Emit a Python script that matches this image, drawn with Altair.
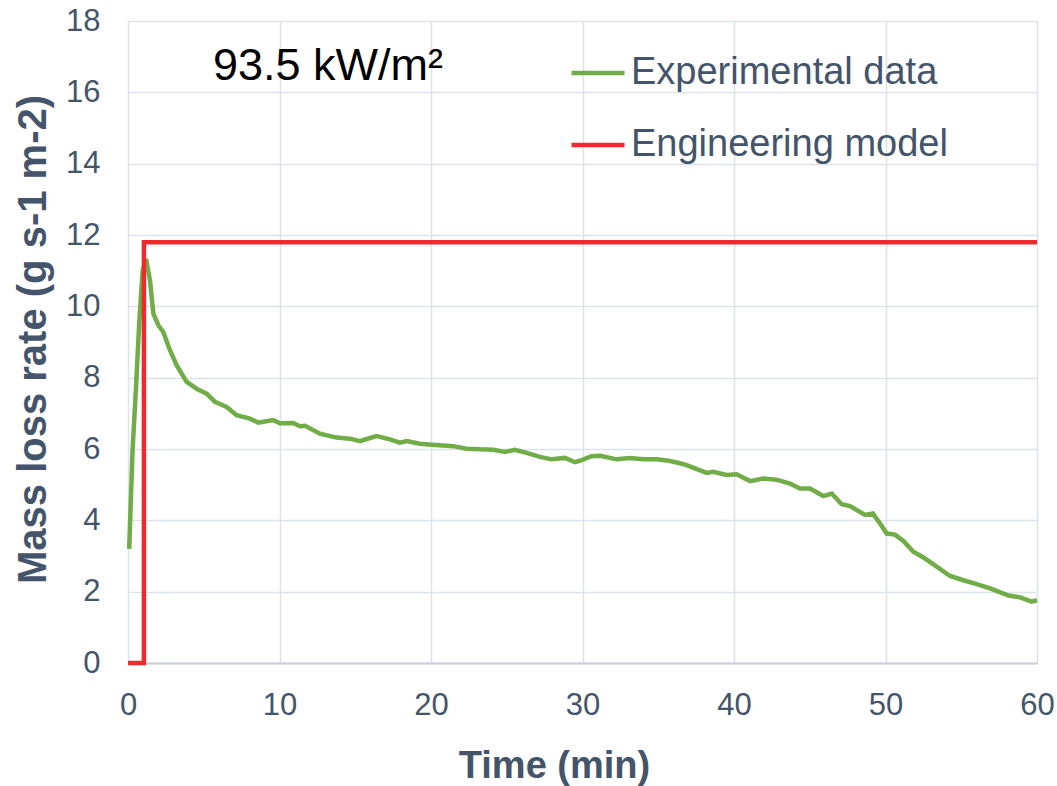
import altair as alt
import pandas as pd

# Measured mass loss rate (g s-1 m-2) against time (min)
exp_time = [0.08, 0.29, 0.53, 0.75, 0.97, 1.19, 1.45, 1.67, 2.0, 2.33, 2.77, 3.21,
            3.87, 4.53, 5.19, 5.74, 6.51, 7.17, 8.05, 8.6, 9.59, 10.03, 10.9, 11.35,
            11.68, 12.67, 13.77, 14.65, 15.31, 15.75, 16.41, 17.29, 17.95, 18.39,
            19.27, 20.04, 21.03, 21.47, 22.35, 23.23, 24.11, 24.88, 25.54, 26.31,
            27.19, 27.96, 28.84, 29.5, 29.94, 30.6, 31.16, 32.25, 33.13, 34.01,
            34.9, 35.56, 36.44, 36.87, 38.2, 38.63, 39.51, 40.17, 41.06, 41.93,
            42.81, 43.69, 44.35, 45.02, 45.89, 46.45, 47.11, 47.66, 48.65, 49.16,
            49.64, 50.08, 50.63, 51.18, 51.84, 52.5, 53.38, 54.26, 55.14, 56.02,
            56.91, 58.12, 58.88, 59.65, 60.0]
exp_rate = [3.2, 5.87, 7.74, 9.61, 11.0, 11.33, 10.73, 9.8, 9.47, 9.28, 8.77, 8.35,
            7.88, 7.69, 7.55, 7.32, 7.18, 6.95, 6.85, 6.74, 6.81, 6.72, 6.73, 6.64,
            6.65, 6.43, 6.32, 6.29, 6.22, 6.28, 6.36, 6.27, 6.18, 6.22,
            6.15, 6.12, 6.09, 6.08, 6.01, 5.99, 5.98, 5.92, 5.98, 5.89,
            5.78, 5.71, 5.75, 5.63, 5.69, 5.8, 5.81, 5.71, 5.75, 5.71,
            5.71, 5.68, 5.6, 5.55, 5.33, 5.36, 5.27, 5.29, 5.1, 5.17,
            5.14, 5.03, 4.89, 4.89, 4.68, 4.75, 4.45, 4.4, 4.15, 4.19,
            3.91, 3.63, 3.6, 3.42, 3.12, 2.96, 2.7, 2.44, 2.32, 2.21,
            2.09, 1.89, 1.84, 1.72, 1.76]

# Engineering model: step up to a constant burning rate
model_time = [0.0, 1.05, 1.05, 60.0]
model_rate = [0.0, 0.0, 11.8, 11.8]

series_names = ["Experimental data", "Engineering model"]
series_colors = ["#70ad47", "#ee2a2e"]

heat_flux_label = "93.5 kW/m²"
heat_flux_pos = (13.2, 16.75)

x_ticks = [0, 10, 20, 30, 40, 50, 60]
y_ticks = [0, 2, 4, 6, 8, 10, 12, 14, 16, 18]

FONT = "Liberation Sans"
TEXT_COLOR = "#44546a"

rows = []
for i, (t, r) in enumerate(zip(exp_time, exp_rate)):
    rows.append({"time": t, "rate": r, "series": series_names[0], "idx": i})
for i, (t, r) in enumerate(zip(model_time, model_rate)):
    rows.append({"time": t, "rate": r, "series": series_names[1], "idx": i})
df = pd.DataFrame(rows)

x_enc = alt.X(
    "time:Q",
    scale=alt.Scale(domain=[0, 60], nice=False),
    axis=alt.Axis(
        values=x_ticks, title="Time (min)", titleX=426, titleY=114,
        titleBaseline="alphabetic", titleFontSize=38,
        labelPadding=27, labelFlush=False, tickSize=0,
        domainColor="#c8d0da", domainWidth=2,
    ),
)
y_enc = alt.Y(
    "rate:Q",
    scale=alt.Scale(domain=[0, 18], nice=False),
    axis=alt.Axis(
        values=y_ticks, title="Mass loss rate (g s-1 m-2)", titleX=-83, titleY=318,
        titleBaseline="alphabetic", titleFontSize=40,
        labelPadding=28, labelFlush=False, tickSize=0, domain=False,
    ),
)

lines = alt.Chart(df).mark_line(strokeWidth=4.5).encode(
    x=x_enc,
    y=y_enc,
    color=alt.Color(
        "series:N",
        scale=alt.Scale(domain=series_names, range=series_colors),
        legend=alt.Legend(
            title=None, orient="none", legendX=441, legendY=23, padding=0,
            symbolType="stroke", symbolSize=2809, symbolStrokeWidth=4.5,
            labelFontSize=38, labelFont=FONT, labelColor=TEXT_COLOR,
            labelOffset=4, rowPadding=24, labelLimit=600,
        ),
    ),
    order=alt.Order("idx:Q"),
)

label_df = pd.DataFrame(
    {"time": [heat_flux_pos[0]], "rate": [heat_flux_pos[1]], "text": [heat_flux_label]}
)
label = alt.Chart(label_df).mark_text(
    font=FONT, fontSize=45, color="#000000", align="center", baseline="middle"
).encode(x="time:Q", y="rate:Q", text="text:N")

chart = (
    alt.layer(lines, label)
    .properties(
        width=909, height=642,
        autosize=alt.AutoSizeParams(type="none"),
        padding={"left": 128, "top": 21, "right": 20, "bottom": 123},
    )
    .configure_view(strokeWidth=0)
    .configure_axis(
        labelFont=FONT, labelFontSize=31, labelColor=TEXT_COLOR,
        titleFont=FONT, titleFontWeight="bold", titleColor=TEXT_COLOR,
        gridColor="#dde3eb", gridWidth=1.5,
    )
)

chart.save("out.html", embed_options={"renderer": "svg", "actions": False})
